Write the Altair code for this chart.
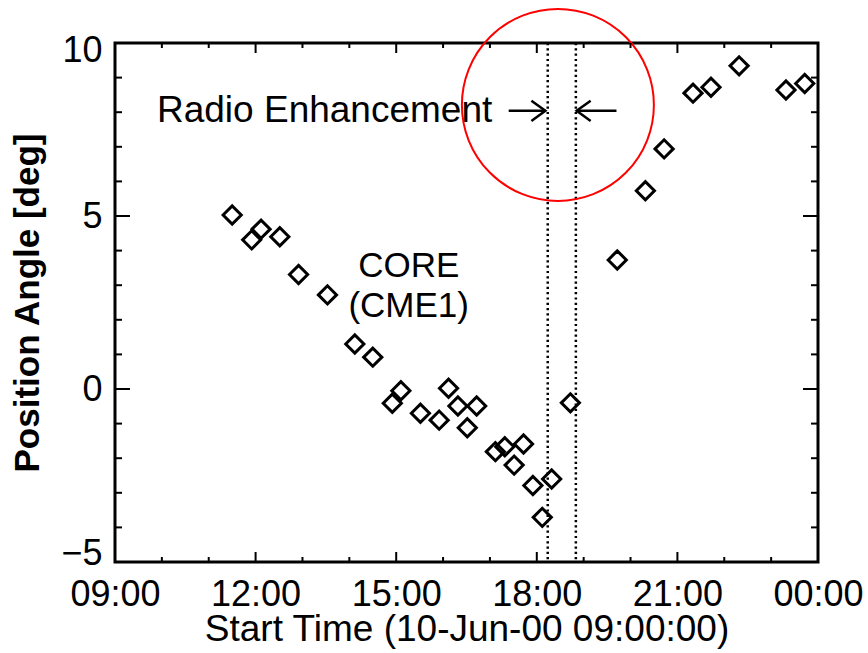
import altair as alt
import pandas as pd

# Position angle of the CME core versus LASCO start time, 10 June 2000
times = ["11:30", "11:55", "12:07", "12:31", "12:55", "13:32", "14:07", "14:30",
         "14:55", "15:06", "15:31", "15:55", "16:07", "16:19", "16:31", "16:43",
         "17:07", "17:19", "17:31", "17:43", "17:55", "18:07", "18:19", "18:43",
         "19:43", "20:19", "20:43", "21:20", "21:43", "22:19", "23:19", "23:43"]
angles = [5.03, 4.31, 4.62, 4.40, 3.31, 2.72, 1.30, 0.92,
          -0.41, -0.05, -0.70, -0.90, 0.02, -0.49, -1.12, -0.49,
          -1.81, -1.67, -2.20, -1.59, -2.79, -3.71, -2.60, -0.40,
          3.73, 5.73, 6.94, 8.55, 8.72, 9.34, 8.64, 8.83]

# interval of the radio enhancement
radio_start = "18:14"
radio_end = "18:50"

# axis ticks
major_hours = [9, 12, 15, 18, 21, 24]
minor_hours = [h for h in range(9, 25) if h not in major_hours]
y_major = [-5, 0, 5, 10]
y_minor = [-4, -3, -2, -1, 1, 2, 3, 4, 6, 7, 8, 9]

# annotations
label_radio = "Radio Enhancement"
label_core = ["CORE", "(CME1)"]

W, H = 703, 519
FONT = "Liberation Sans"


def stamp(hhmm):
    h, m = hhmm.split(":")
    return f"2000-06-10T{int(h):02d}:{int(m):02d}:00"


def hour_stamp(h):
    if h >= 24:
        return f"2000-06-11T{h - 24:02d}:00:00"
    return f"2000-06-10T{h:02d}:00:00"


def dt(h):
    if h >= 24:
        return alt.DateTime(year=2000, month=6, date=11, hours=h - 24)
    return alt.DateTime(year=2000, month=6, date=10, hours=h)


x_scale = alt.Scale(domain=[dt(9), dt(24)], nice=False)
y_scale = alt.Scale(domain=[-5, 10], nice=False, zero=False)

x_axis = alt.Axis(
    values=[dt(h) for h in major_hours], format="%H:%M",
    title="Start Time (10-Jun-00 09:00:00)",
    labelFontSize=36, labelPadding=15, tickSize=0, labelFlush=False,
    labelOverlap=False,
    titleFontSize=37, titleFontWeight="normal", titleY=78,
    titleBaseline="alphabetic")
y_axis = alt.Axis(
    values=y_major, title="Position Angle [deg]",
    labelFontSize=36, labelPadding=13, tickSize=0,
    labelFlush=True, labelFlushOffset=10,
    titleFontSize=35, titleFontWeight="bold", titleX=-77,
    titleBaseline="alphabetic")

X = alt.X("t:T", scale=x_scale, axis=x_axis)
Y = alt.Y("v:Q", scale=y_scale, axis=y_axis)

pts = pd.DataFrame({"t": [stamp(t) for t in times], "v": angles})

points = alt.Chart(pts).mark_point(
    shape="diamond", size=330, filled=False, stroke="black", strokeWidth=3, opacity=1
).encode(x=X, y=Y)

# dotted lines bracketing the radio enhancement
bounds = pd.DataFrame({"t": [stamp(radio_start), stamp(radio_end)]})
dotted = alt.Chart(bounds).mark_rule(
    color="black", strokeWidth=2.5, strokeDash=[2.2, 3.1]
).encode(x=X)

# arrows pointing at the interval
arrow_y = 8.04
shafts = pd.DataFrame({
    "t": [stamp("17:24"), stamp("19:42")],
    "t2": [stamp("18:11"), stamp("18:51")],
    "v": [arrow_y, arrow_y],
})
shaft = alt.Chart(shafts).mark_rule(color="black", strokeWidth=2.5).encode(
    x=X, x2="t2:T", y=Y,
)
head_r = pd.DataFrame({"t": [stamp("18:11")], "v": [arrow_y]})
head_l = pd.DataFrame({"t": [stamp("18:51")], "v": [arrow_y]})
head_style = dict(filled=False, stroke="black", strokeWidth=2.5, size=784, opacity=1)
right_head = alt.Chart(head_r).mark_point(
    shape="M -1 -0.72 L 0 0 L -1 0.72", **head_style
).encode(x=X, y=Y)
left_head = alt.Chart(head_l).mark_point(
    shape="M 1 -0.72 L 0 0 L 1 0.72", **head_style
).encode(x=X, y=Y)

# text labels
radio_df = pd.DataFrame({"t": [stamp("17:03")], "v": [7.72], "label": [label_radio]})
radio_text = alt.Chart(radio_df).mark_text(
    font=FONT, fontSize=37, align="right", baseline="alphabetic", color="black"
).encode(x=X, y=Y, text="label:N")

core_df = pd.DataFrame({"t": [stamp("15:16")] * 2, "v": [3.24, 2.08], "label": label_core})
core_text = alt.Chart(core_df).mark_text(
    font=FONT, fontSize=35, align="center", baseline="alphabetic", color="black"
).encode(x=X, y=Y, text="label:N")

# red circle highlighting the interval (diameter 192 px)
circle_df = pd.DataFrame({"t": [stamp("18:27")], "v": [8.21]})
circle = alt.Chart(circle_df).mark_point(
    shape="circle", size=192 ** 2, filled=False, stroke="red",
    strokeWidth=2, opacity=1
).encode(x=X, y=Y)


# inward-pointing ticks on all four sides
def x_ticks(hours, length):
    df = pd.DataFrame({"t": [hour_stamp(h) for h in hours]})
    base = alt.Chart(df).mark_rule(color="black", strokeWidth=2)
    bottom = base.encode(x=X, y=alt.value(H), y2=alt.value(H - length))
    top = base.encode(x=X, y=alt.value(0), y2=alt.value(length))
    return [bottom, top]


def y_ticks(vals, length):
    df = pd.DataFrame({"v": vals})
    base = alt.Chart(df).mark_rule(color="black", strokeWidth=2)
    left = base.encode(y=Y, x=alt.value(0), x2=alt.value(length))
    right = base.encode(y=Y, x=alt.value(W), x2=alt.value(W - length))
    return [left, right]


ticks = x_ticks(major_hours, 10) + x_ticks(minor_hours, 5) + \
    y_ticks(y_major, 15) + y_ticks(y_minor, 7)

chart = alt.layer(
    points, dotted, shaft, right_head, left_head, radio_text, core_text, circle, *ticks
).properties(
    width=W, height=H,
    padding={"left": 115, "top": 43, "right": 50, "bottom": 91},
    autosize=alt.AutoSizeParams(type="none"),
    background="white",
).configure_axis(
    grid=False, ticks=False, domain=False,
    labelFont=FONT, titleFont=FONT, labelColor="black", titleColor="black",
).configure_view(
    stroke="black", strokeWidth=3,
)

chart.save("out.html", embed_options={"renderer": "svg", "actions": False})
